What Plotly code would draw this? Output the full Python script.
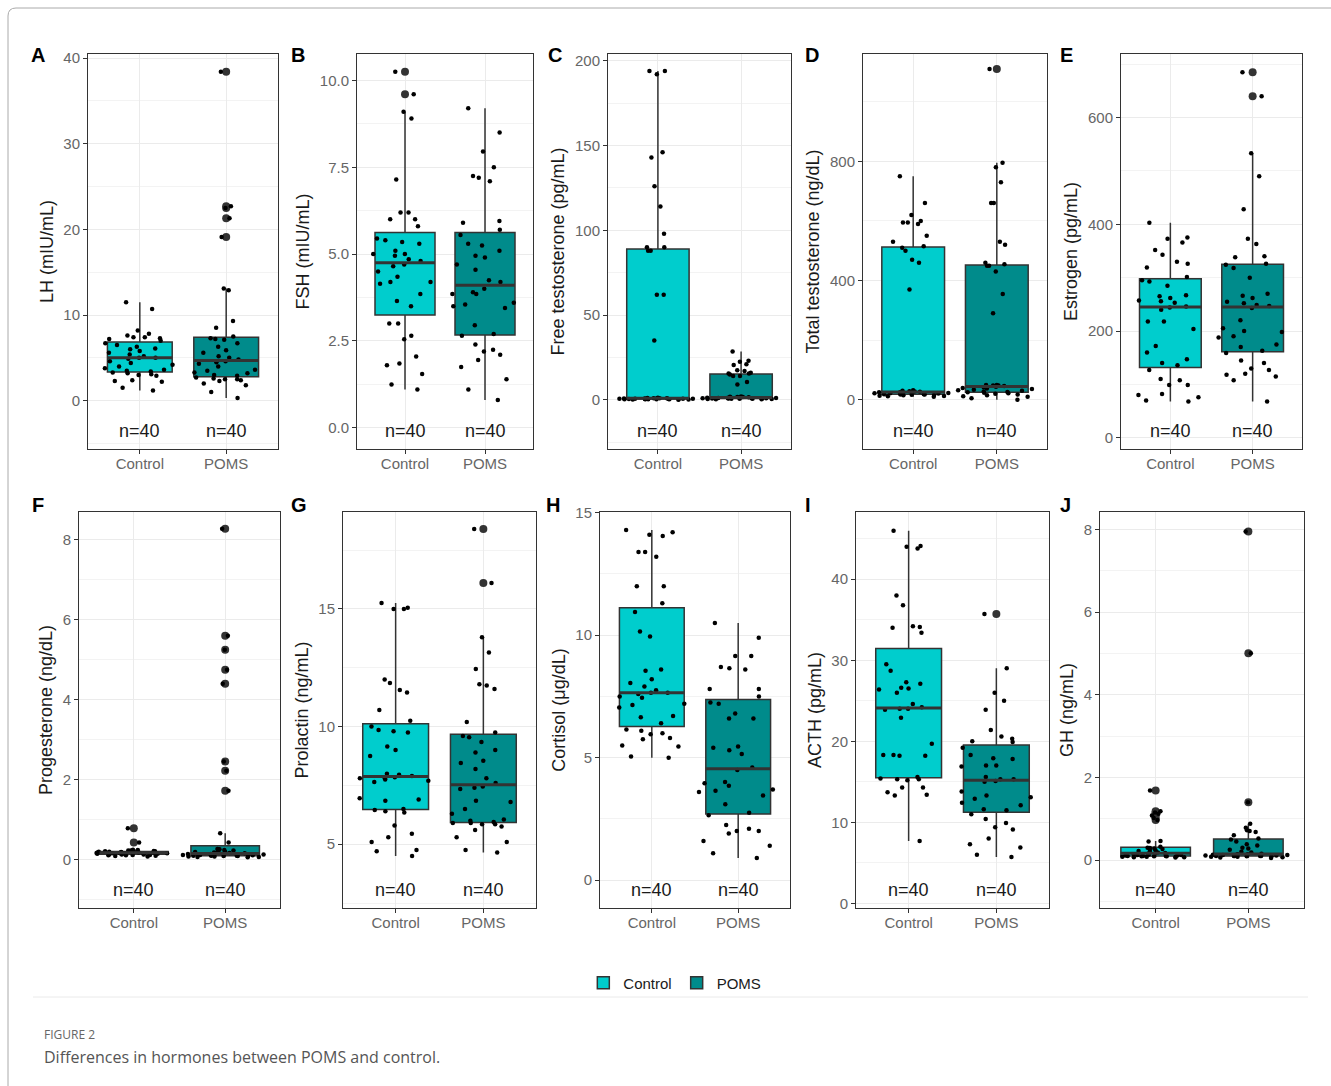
import numpy as np
import plotly.graph_objects as go

W, H = 1331, 1086

groups = ["Control", "POMS"]
group_colors = ["#00CDCD", "#008B8B"]

panel_letters = ["A", "B", "C", "D", "E", "F", "G", "H", "I", "J"]
y_titles = ["LH (mIU/mL)", "FSH (mIU/mL)", "Free testosterone (pg/mL)",
            "Total testosterone (ng/dL)", "Estrogen (pg/mL)",
            "Progesterone (ng/dL)", "Prolactin (ng/mL)", "Cortisol (μg/dL)",
            "ACTH (pg/mL)", "GH (ng/mL)"]

# ---------------- data ----------------
lh_control = [1.2, 1.5, 2.2, 2.3, 2.4, 2.9, 3.0, 3.1, 3.2, 3.3,
              3.4, 3.5, 3.6, 3.8, 4.0, 4.2, 4.4, 4.6, 4.9, 5.0,
              5.0, 5.2, 5.4, 5.6, 5.8, 6.0, 6.1, 6.3, 6.5, 6.7,
              7.0, 7.2, 7.3, 7.4, 7.4, 7.6, 7.8, 8.2, 10.7, 11.5]
lh_poms = [0.3, 1.0, 1.8, 2.0, 2.3, 2.4, 2.5, 2.5, 2.6, 2.7,
           2.9, 3.0, 3.2, 3.3, 3.5, 3.6, 4.0, 4.3, 4.5, 4.6,
           4.8, 5.0, 5.2, 5.6, 5.9, 6.3, 6.7, 7.1, 7.2, 7.3,
           7.5, 8.5, 9.3, 12.9, 13.1, 19.1, 21.3, 22.5, 22.7, 38.4]

fsh_control = [1.1, 1.25, 1.55, 1.8, 1.85, 2.05, 2.55, 2.65, 3.0, 3.0,
               3.5, 3.65, 3.85, 4.15, 4.2, 4.2, 4.35, 4.5, 4.65, 4.7,
               4.8, 4.85, 4.95, 5.0, 5.0, 5.1, 5.3, 5.35, 5.4, 5.45,
               5.8, 6.0, 6.0, 6.2, 6.2, 7.15, 8.9, 9.1, 9.6, 10.25]
fsh_poms = [0.8, 1.1, 1.4, 1.75, 1.95, 2.1, 2.2, 2.25, 2.4, 2.65,
            2.7, 2.95, 3.45, 3.5, 3.55, 3.6, 3.85, 3.85, 3.9, 4.0,
            4.2, 4.25, 4.55, 4.7, 4.9, 4.95, 5.1, 5.25, 5.3, 5.55,
            5.7, 5.9, 5.95, 7.1, 7.2, 7.25, 7.5, 7.95, 8.5, 9.2]

free_t_control = [0.1, 0.2, 0.2, 0.3, 0.3, 0.3, 0.4, 0.4, 0.4, 0.5,
                  0.5, 0.5, 0.6, 0.6, 0.6, 0.7, 0.7, 0.8, 0.8, 0.9,
                  0.9, 1.0, 1.0, 1.1, 1.2, 35, 62, 62, 88, 88,
                  90, 90, 98, 114, 126, 143, 146, 192, 194, 194]
free_t_poms = [0.3, 0.4, 0.5, 0.5, 0.6, 0.6, 0.7, 0.7, 0.8, 0.8,
               0.9, 0.9, 1.0, 1.0, 1.1, 1.1, 1.2, 1.2, 1.3, 1.4,
               1.5, 1.6, 1.7, 1.8, 2.0, 9, 10.5, 14, 14, 15,
               15.5, 15.5, 16, 17, 17.5, 20.5, 21, 22.5, 23, 28.5]

total_t_control = [10, 12, 13, 14, 15, 16, 17, 18, 18, 19,
                   19, 20, 21, 22, 22, 23, 24, 25, 25, 26,
                   27, 28, 29, 30, 32, 370, 460, 470, 500, 510,
                   515, 530, 550, 590, 595, 595, 600, 620, 660, 750]
total_t_poms = [0, 5, 10, 12, 15, 18, 20, 22, 24, 25,
                26, 28, 30, 32, 34, 36, 38, 40, 42, 44,
                46, 48, 48, 50, 50, 290, 355, 430, 450, 450,
                455, 460, 520, 530, 660, 660, 730, 780, 795, 1110]

estrogen_control = [68, 70, 76, 80, 82, 99, 99, 108, 110, 127,
                    136, 140, 147, 160, 172, 204, 218, 218, 240, 244,
                    246, 253, 256, 257, 262, 265, 267, 285, 293, 295,
                    301, 319, 326, 330, 343, 352, 366, 373, 375, 403]
estrogen_poms = [68, 108, 115, 118, 120, 127, 130, 140, 145, 159,
                 163, 170, 175, 188, 190, 198, 200, 205, 220, 243,
                 247, 249, 252, 255, 262, 266, 270, 300, 318, 324,
                 326, 338, 340, 363, 373, 428, 490, 533, 640, 685]

progesterone_control = [0.07, 0.08, 0.09, 0.10, 0.10, 0.11, 0.11, 0.12, 0.12, 0.12,
                        0.13, 0.13, 0.14, 0.14, 0.15, 0.15, 0.15, 0.16, 0.16, 0.16,
                        0.17, 0.17, 0.17, 0.17, 0.18, 0.18, 0.18, 0.19, 0.19, 0.19,
                        0.20, 0.20, 0.21, 0.21, 0.22, 0.22, 0.23, 0.24, 0.42, 0.78]
progesterone_poms = [0.05, 0.06, 0.06, 0.07, 0.07, 0.08, 0.08, 0.08, 0.09, 0.09,
                     0.09, 0.10, 0.10, 0.11, 0.11, 0.12, 0.12, 0.13, 0.13, 0.14,
                     0.15, 0.16, 0.17, 0.18, 0.19, 0.20, 0.22, 0.23, 0.25, 0.26,
                     0.42, 0.65, 1.72, 2.22, 2.45, 4.40, 4.75, 5.25, 5.60, 8.28]

prolactin_control = [4.5, 4.7, 4.75, 5.1, 5.3, 5.45, 5.8, 6.35, 6.4, 6.45,
                     6.5, 6.85, 6.9, 6.95, 7.65, 7.7, 7.75, 7.8, 7.8, 7.85,
                     7.9, 7.95, 8.0, 8.75, 9.0, 9.15, 9.75, 9.8, 9.85, 10.0,
                     10.25, 10.7, 11.45, 11.55, 11.85, 12.0, 15.0, 15.0, 15.05, 15.25]
prolactin_poms = [4.65, 4.75, 5.1, 5.3, 5.6, 5.75, 5.85, 5.85, 5.9, 5.9,
                  5.95, 6.0, 6.05, 6.3, 6.5, 6.8, 6.85, 7.35, 7.4, 7.45,
                  7.6, 7.8, 8.2, 8.45, 8.55, 8.9, 9.0, 9.35, 9.55, 9.6,
                  9.75, 10.2, 11.6, 11.75, 11.8, 12.45, 13.15, 13.8, 16.1, 18.4]

cortisol_control = [5.0, 5.05, 5.45, 5.5, 5.75, 5.8, 5.95, 6.0, 6.1, 6.15,
                    6.4, 6.65, 6.7, 7.05, 7.15, 7.2, 7.45, 7.5, 7.6, 7.65,
                    7.65, 7.75, 7.9, 8.05, 8.2, 8.55, 8.6, 9.95, 10.15, 10.95,
                    11.3, 12.0, 12.0, 13.2, 13.4, 13.4, 14.05, 14.1, 14.2, 14.3]
cortisol_poms = [0.9, 1.1, 1.4, 1.6, 1.9, 2.0, 2.0, 2.1, 2.25, 2.65,
                 2.75, 3.1, 3.45, 3.6, 3.65, 3.7, 3.85, 3.95, 4.0, 4.5,
                 4.6, 5.15, 5.3, 5.4, 5.45, 6.6, 6.6, 6.8, 7.2, 7.25,
                 7.5, 7.8, 7.8, 8.6, 8.65, 8.7, 9.15, 9.15, 9.9, 10.5]

acth_control = [7.7, 13.3, 13.4, 13.7, 14.3, 14.3, 15.2, 15.3, 15.3, 15.4,
                15.6, 18.2, 18.2, 18.3, 18.3, 19.7, 22.9, 23.9, 24.0, 24.0,
                24.2, 24.6, 26.0, 26.4, 26.5, 26.6, 27.1, 27.3, 28.7, 29.5,
                33.4, 34.0, 34.1, 34.2, 36.8, 38.0, 43.8, 44.0, 44.1, 46.0]
acth_poms = [5.7, 6.0, 6.9, 7.3, 8.0, 9.1, 9.4, 9.9, 10.4, 11.0,
             11.5, 11.6, 12.1, 12.4, 12.9, 13.1, 13.3, 13.8, 15.0, 15.1,
             15.3, 15.3, 15.6, 16.9, 17.0, 17.0, 17.8, 17.9, 18.3, 19.2,
             19.9, 20.0, 20.3, 20.6, 21.4, 23.9, 25.0, 26.0, 29.0, 35.7]

gh_control = [0.06, 0.07, 0.07, 0.08, 0.08, 0.08, 0.09, 0.09, 0.09, 0.10,
              0.10, 0.10, 0.11, 0.11, 0.12, 0.12, 0.13, 0.14, 0.15, 0.16,
              0.17, 0.18, 0.20, 0.22, 0.24, 0.25, 0.27, 0.28, 0.29, 0.30,
              0.32, 0.45, 0.46, 0.97, 1.02, 1.08, 1.12, 1.15, 1.18, 1.68]
gh_poms = [0.05, 0.06, 0.07, 0.08, 0.08, 0.09, 0.09, 0.10, 0.10, 0.10,
           0.10, 0.10, 0.11, 0.11, 0.12, 0.12, 0.13, 0.13, 0.14, 0.14,
           0.15, 0.18, 0.20, 0.25, 0.28, 0.30, 0.35, 0.38, 0.45, 0.50,
           0.52, 0.60, 0.68, 0.70, 0.72, 0.78, 0.88, 1.40, 5.00, 7.95]

# y-axis ticks per panel
y_ticks = [[0, 10, 20, 30, 40], [0.0, 2.5, 5.0, 7.5, 10.0], [0, 50, 100, 150, 200],
           [0, 400, 800], [0, 200, 400, 600], [0, 2, 4, 6, 8], [5, 10, 15],
           [0, 5, 10, 15], [0, 10, 20, 30, 40], [0, 2, 4, 6, 8]]

panel_data = [(lh_control, lh_poms), (fsh_control, fsh_poms),
              (free_t_control, free_t_poms), (total_t_control, total_t_poms),
              (estrogen_control, estrogen_poms),
              (progesterone_control, progesterone_poms),
              (prolactin_control, prolactin_poms), (cortisol_control, cortisol_poms),
              (acth_control, acth_poms), (gh_control, gh_poms)]

# ---------------- layout geometry (pixels) ----------------
y_ranges = [[-5.64, 40.47], [-0.61, 10.76], [-29, 204], [-165, 1160], [-21, 719],
            [-1.22, 8.70], [2.29, 19.12], [-1.14, 15.03], [-0.58, 48.3], [-1.16, 8.42]]
x_px = [(88, 278), (357, 533), (608, 791), (863, 1047), (1121, 1302),
        (79, 280), (343, 536), (600, 790), (856, 1049), (1100, 1304)]
row_px = [(54, 449), (512, 908)]
letter_px = [(38, 55), (298, 55), (555, 55), (812, 55), (1066, 55),
             (38, 505), (299, 505), (553, 505), (808, 505), (1065, 505)]

FONT = "Liberation Sans, Arial, sans-serif"
BOX_W = 0.75       # box width in category units
POINT_W = 0.95     # jitter band for the points

fig = go.Figure()
annotations = []
shapes = []
layout_axes = {}

for i, (data_pair, letter, ytitle, ticks, yr, (x0, x1)) in enumerate(
        zip(panel_data, panel_letters, y_titles, y_ticks, y_ranges, x_px)):
    k = i + 1
    suffix = "" if k == 1 else str(k)
    xa, ya = f"x{suffix}", f"y{suffix}"
    row = 0 if i < 5 else 1
    top, bot = row_px[row]

    # boxes with ggplot-style outliers (large dots at the centre)
    for gi, (grp, col, vals) in enumerate(zip(groups, group_colors, data_pair)):
        fig.add_trace(go.Box(
            x=[grp] * len(vals), y=vals, name=grp,
            xaxis=xa, yaxis=ya, width=BOX_W,
            boxpoints="outliers", jitter=0, pointpos=0,
            marker=dict(color="#333333", size=8, line=dict(width=0)),
            fillcolor=col, line=dict(color="#333333", width=1.5),
            whiskerwidth=0, quartilemethod="linear",
            legendgroup=grp, showlegend=(i == 0)))
        # thicker median bar, as in ggplot
        med = float(np.median(vals))
        shapes.append(dict(type="line", xref=xa, yref=ya,
                           x0=gi - BOX_W / 2, x1=gi + BOX_W / 2, y0=med, y1=med,
                           line=dict(color="#333333", width=3), layer="above"))
        annotations.append(dict(
            x=grp, xref=xa, y=0.045, yref=f"{ya} domain",
            text=f"n={len(vals)}", showarrow=False,
            font=dict(family=FONT, size=18, color="#1a1a1a"),
            yanchor="middle"))

    # jittered raw points (plotly's own jitter, on an invisible box)
    for grp, vals in zip(groups, data_pair):
        fig.add_trace(go.Box(
            x=[grp] * len(vals), y=vals, name=grp,
            xaxis=xa, yaxis=ya, width=POINT_W,
            boxpoints="all", jitter=1, pointpos=0,
            fillcolor="rgba(0,0,0,0)", line=dict(color="rgba(0,0,0,0)", width=0),
            marker=dict(color="black", size=4.5),
            whiskerwidth=0, quartilemethod="linear",
            showlegend=False, hoveron="points"))

    step = ticks[1] - ticks[0]
    layout_axes[f"xaxis{suffix}"] = dict(
        domain=[x0 / W, x1 / W], anchor=ya, automargin=False,
        type="category", categoryorder="array", categoryarray=groups,
        range=[-0.6, 1.6], showgrid=True, gridcolor="#EBEBEB", gridwidth=1.2,
        showline=True, mirror=True, linecolor="#333333", linewidth=1,
        ticks="outside", ticklen=4, tickcolor="#333333", ticklabelstandoff=-3,
        tickfont=dict(family=FONT, size=15, color="#666666"),
        zeroline=False, fixedrange=True)
    layout_axes[f"yaxis{suffix}"] = dict(
        domain=[1 - bot / H, 1 - top / H], anchor=xa, automargin=False,
        range=yr, tickvals=ticks,
        tickformat=".1f" if k == 2 else None,
        showgrid=True, gridcolor="#EBEBEB", gridwidth=1.2,
        minor=dict(showgrid=True, gridcolor="#F3F3F3", gridwidth=1,
                   dtick=step / 2, tick0=ticks[0], ticks=""),
        showline=True, mirror=True, linecolor="#333333", linewidth=1,
        ticks="outside", ticklen=4, tickcolor="#333333",
        tickfont=dict(family=FONT, size=15, color="#666666"),
        title=dict(text=ytitle, standoff=5,
                   font=dict(family=FONT, size=18, color="#1a1a1a")),
        zeroline=False, fixedrange=True)

    lx, ly = letter_px[i]
    annotations.append(dict(
        x=lx / W, y=1 - ly / H, xref="paper", yref="paper",
        text=f"<b>{letter}</b>", showarrow=False,
        font=dict(family=FONT, size=20, color="black"),
        xanchor="center", yanchor="middle"))

# caption
annotations.append(dict(
    x=42 / W, y=1 - 1034 / H, xref="paper", yref="paper", text="FIGURE 2",
    showarrow=False, xanchor="left", yanchor="middle",
    font=dict(family="Open Sans", size=12, color="#666666")))
annotations.append(dict(
    x=42 / W, y=1 - 1057 / H, xref="paper", yref="paper",
    text="Differences in hormones between POMS and control.",
    showarrow=False, xanchor="left", yanchor="middle",
    font=dict(family="Open Sans", size=16, color="#555555")))

shapes += [
    dict(type="line", xref="paper", yref="paper",
         x0=33 / W, x1=1308 / W, y0=1 - 997 / H, y1=1 - 997 / H,
         line=dict(color="#EAEAEA", width=1)),
    dict(type="path", xref="paper", yref="paper",
         path=(f"M {8 / W},0 L {8 / W},{1 - 16 / H} "
               f"Q {8 / W},{1 - 8 / H} {16 / W},{1 - 8 / H} L 1,{1 - 8 / H}"),
         line=dict(color="#AAAAAA", width=1)),
]

fig.update_layout(
    width=W, height=H, autosize=False,
    margin=dict(l=0, r=0, t=0, b=0, autoexpand=False),
    paper_bgcolor="white", plot_bgcolor="white",
    boxmode="overlay",
    font=dict(family=FONT),
    showlegend=True,
    legend=dict(orientation="h", x=0.507, xanchor="center",
                y=1 - 983 / H, yanchor="middle",
                font=dict(family=FONT, size=15, color="#1a1a1a"),
                bgcolor="rgba(0,0,0,0)"),
    annotations=annotations, shapes=shapes,
    **layout_axes)

fig.write_html("out.html",
               config={"displayModeBar": False},
               post_script="document.body.style.margin='0';"
                           "document.body.style.overflow='hidden';")
